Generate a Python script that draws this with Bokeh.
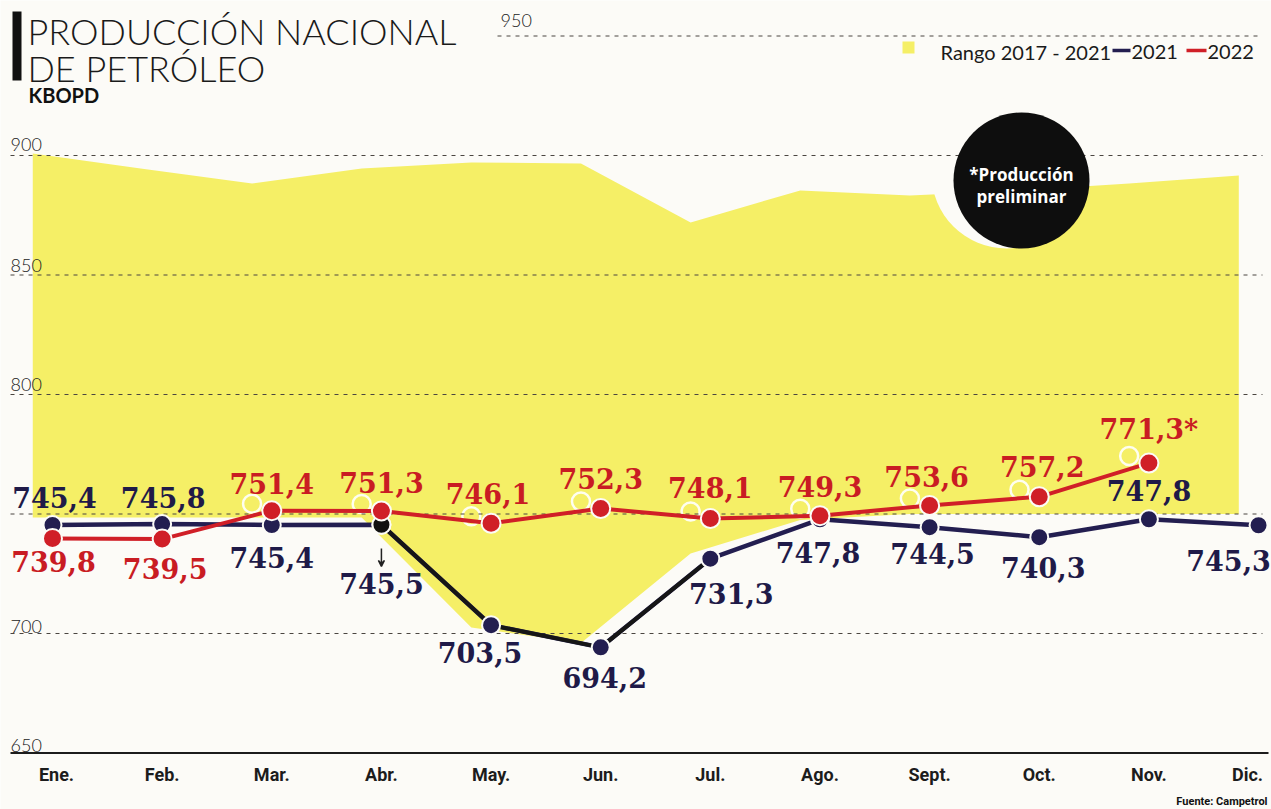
from bokeh.plotting import figure
from bokeh.models import ColumnDataSource, Range1d, Arrow, VeeHead
from bokeh.transform import dodge
from bokeh.core.properties import value
from bokeh.embed import file_html
from bokeh.resources import INLINE

# ---------------- data ----------------
months = ["Ene.", "Feb.", "Mar.", "Abr.", "May.", "Jun.", "Jul.", "Ago.",
          "Sept.", "Oct.", "Nov.", "Dic."]
prod_2021 = [745.4, 745.8, 745.4, 745.5, 703.5, 694.2, 731.3, 747.8,
             744.5, 740.3, 747.8, 745.3]
prod_2022 = [739.8, 739.5, 751.4, 751.3, 746.1, 752.3, 748.1, 749.3,
             753.6, 757.2, 771.3]
range_high = [900.8, 894.5, 888.3, 894.6, 897.1, 896.7, 872.0, 885.4,
              883.3, 885.4, 888.3, 891.6]
range_low = [748.5, 748.5, 748.5, 748.5, 702.5, 696.0, 733.5, 747.5,
             750.0, 750.0, 750.0, 750.0]
grid_values = [700, 750, 800, 850, 900, 950]
tick_values = [650, 700, 800, 850, 900, 950]
tick_labels = ["650", "700", "800", "850", "900", "950"]

# ---------------- layout helpers (canvas pixels -> data) ----------------
X0_PX, DX_PX = 52.0, 109.64
Y700_PX, PX_PER_UNIT = 633.0, 2.39
W, H = 1271, 809


def px2x(px):
    return (px - X0_PX) / DX_PX


def px2y(py):
    return 700 + (Y700_PX - py) / PX_PER_UNIT


BG = "#fcfbf7"
YELLOW = "#f5ef66"
NAVY = "#231e50"
RED = "#d01f27"
INK = "#1c1c1c"
REG_X = -0.18          # off-register shift of the yellow plate (months)
REG_Y = 7 / PX_PER_UNIT  # off-register shift of the yellow plate (units)

p = figure(width=W, height=H, output_backend="svg", toolbar_location=None,
           x_range=Range1d(px2x(0), px2x(W)), y_range=Range1d(px2y(H), px2y(0)),
           x_axis_location=None, y_axis_location=None, min_border=0,
           background_fill_color=BG, border_fill_color=BG, outline_line_color=None)
p.grid.visible = False

idx = list(range(len(months)))
idx22 = idx[:len(prod_2022)]

# range band (printed slightly off-register to the left)
band = ColumnDataSource(dict(x=idx, low=range_low, high=range_high))
p.varea(x=dodge("x", REG_X), y1="low", y2="high", source=band, fill_color=YELLOW)

# knock-out ghosts of the 2022 markers in the yellow plate
ghost = ColumnDataSource(dict(x=idx22[2:], y=prod_2022[2:]))
p.scatter(x=dodge("x", REG_X), y=dodge("y", REG_Y), source=ghost, size=18,
          fill_color=None, line_color="white", line_width=2.5, line_alpha=0.9)

# white halo round the note bubble
p.scatter(x=[px2x(1006)], y=[px2y(173)], size=150, fill_color=BG, line_color=None)

# grid lines
x0s = [px2x(10) if v != 950 else px2x(497) for v in grid_values]
p.segment(x0=x0s, y0=grid_values, x1=[px2x(1262)] * len(grid_values), y1=grid_values,
          line_color="#4a4540", line_width=1, line_dash="4 5")
p.segment(x0=[px2x(10)], y0=[650], x1=[px2x(1268)], y1=[650], line_color=INK, line_width=2)

# y tick labels
tick_x = [px2x(10) if v != 950 else px2x(500) for v in tick_values]
p.text(x=tick_x, y=tick_values, text=tick_labels, text_font=value("Lato Light"),
       text_font_size="18px", text_color="#222", text_baseline="middle",
       text_align="left", y_offset=[-8, -7, -10, -10, -11, -16])

# month labels
p.text(x=idx, y=[650] * len(idx), text=months, text_font=value("Roboto"),
       text_font_style="bold", text_font_size="18px", text_color=INK,
       text_align="center", text_baseline="middle", y_offset=21,
       x_offset=[4, 0, 0, 0, 0, 0, 0, 0, 0, 0, 0, -11])

# note bubble
p.scatter(x=[px2x(1021)], y=[px2y(180)], size=136, fill_color="#0e0e0e", line_color=None)
p.text(x=[px2x(1021)] * 2, y=[px2y(174), px2y(196)], text=["*Producción", "preliminar"],
       text_font=value("Open Sans"), text_font_style="bold", text_font_size="17px",
       text_color="white", text_align="center", text_baseline="middle")

# 2021 line
p.line(idx, prod_2021, line_color=NAVY, line_width=4.5)
p.line(idx[3:7], prod_2021[3:7], line_color="#161616", line_width=4)
p.scatter(idx, prod_2021, size=18, fill_color=NAVY, line_color=BG, line_width=2)
p.scatter(idx[3:4], prod_2021[3:4], size=18, fill_color="#111", line_color=BG, line_width=2)

# 2022 line
p.line(idx22, prod_2022, line_color=RED, line_width=4)
p.scatter(idx22, prod_2022, size=19, fill_color=RED, line_color=BG, line_width=2)


def fmt(v):
    return f"{v:.1f}".replace(".", ",")


lab21 = ColumnDataSource(dict(
    x=idx, y=prod_2021, t=[fmt(v) for v in prod_2021],
    xo=[2, 1, 0, 0, -11, 4, 21, -2, 3, 4, 0, -30],
    yo=[-27, -27, 33, 59, 27, 30, 35, 33, 26, 30, -29, 35]))
t22 = [fmt(v) for v in prod_2022]
t22[-1] += "*"
lab22 = ColumnDataSource(dict(
    x=idx22, y=prod_2022, t=t22,
    xo=[1, 3, 0, 0, -3, 0, 0, 0, -3, 3, 0],
    yo=[23, 29, -27, -28, -30, -30, -31, -29, -29, -30, -34]))
p.text(x="x", y="y", text="t", x_offset="xo", y_offset="yo", source=lab21,
       text_font=value("DejaVu Serif"), text_font_style="bold", text_font_size="27px",
       text_color="#1f1a48", text_align="center", text_baseline="middle")
p.text(x="x", y="y", text="t", x_offset="xo", y_offset="yo", source=lab22,
       text_font=value("DejaVu Serif"), text_font_style="bold", text_font_size="27px",
       text_color="#c91c23", text_align="center", text_baseline="middle")

p.add_layout(Arrow(x_start=3, y_start=px2y(548), x_end=3, y_end=px2y(566),
                   line_color="#222", line_width=1.5,
                   end=VeeHead(size=6, line_color="#222", line_width=1.5, fill_color="#222")))

# title
p.quad(left=[px2x(12)], right=[px2x(21)], top=[px2y(11)], bottom=[px2y(80)],
       fill_color="#111", line_color=None)
p.text(x=[px2x(27)] * 2, y=[px2y(30), px2y(67)], text=["PRODUCCIÓN NACIONAL", "DE PETRÓLEO"],
       text_font=value("Lato Light"), text_font_size="36px", text_color="#1a1a1a",
       text_baseline="middle", text_align="left")
p.text(x=[px2x(28)], y=[px2y(94)], text=["KBOPD"], text_font=value("Lato"),
       text_font_style="bold", text_font_size="20px", text_color="#111",
       text_baseline="middle", text_align="left")

# legend
p.scatter(marker="square", x=[px2x(908)], y=[px2y(47)], size=12, fill_color=YELLOW, line_color=None)
p.segment(x0=[px2x(1112), px2x(1186)], y0=[px2y(50)] * 2, x1=[px2x(1130), px2x(1206)],
          y1=[px2y(50)] * 2, line_color=[NAVY, RED], line_width=3.5)
p.text(x=[px2x(940), px2x(1131), px2x(1207)], y=[px2y(51)] * 3,
       text=["Rango 2017 - 2021", "2021", "2022"], text_font=value("Lato"),
       text_font_size="20px", text_color="#1a1a1a", text_baseline="middle", text_align="left")

# source
p.text(x=[px2x(1267)], y=[px2y(801)], text=["Fuente: Campetrol"], text_font=value("Roboto"),
       text_font_style="bold", text_font_size="11px", text_color="#111",
       text_baseline="middle", text_align="right")

open("out.html", "w").write(file_html(p, INLINE))
